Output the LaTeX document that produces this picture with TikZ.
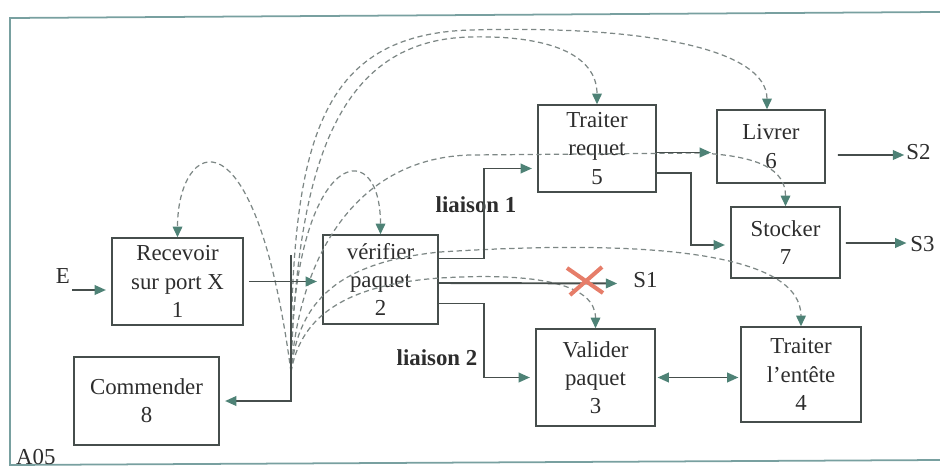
\documentclass[tikz,border=0pt]{standalone}
\usepackage{fontspec}
\setmainfont{Liberation Serif}
\usetikzlibrary{arrows.meta,calc}
\definecolor{framecol}{RGB}{120,160,160}
\definecolor{headcol}{RGB}{78,130,118}
\definecolor{linecol}{RGB}{70,78,76}
\definecolor{ctrlcol}{RGB}{125,135,133}
\definecolor{txtcol}{RGB}{45,45,45}
\definecolor{crosscol}{RGB}{230,125,105}
\tikzset{
  proc/.style={draw=linecol, line width=0.9pt, align=center, inner sep=1pt,
    font=\fontsize{13}{16}\selectfont, text=txtcol},
  flow/.style={draw=linecol, line width=1.1pt,
    -{Triangle[length=6.5pt,width=5.5pt,color=headcol]}, shorten >=3pt},
  both/.style={flow, {Triangle[length=6.5pt,width=5.5pt,color=headcol]}-{Triangle[length=6.5pt,width=5.5pt,color=headcol]}},
  ctrl/.style={draw=ctrlcol, line width=0.7pt, dash pattern=on 3pt off 2pt,
    -{Triangle[length=6pt,width=5.5pt,color=headcol]}},
  lbl/.style={font=\fontsize{13}{16}\selectfont, text=txtcol},
  lblbold/.style={font=\fontsize{13}{16}\selectfont\bfseries, text=txtcol},
}
\begin{document}
\begin{tikzpicture}[x=0.02cm, y=-0.02cm]
  \useasboundingbox (0,0) rectangle (940,470);
  % cadre
  \draw[framecol, line width=1pt] (940,12) -- (10,18) -- (10,465) -- (940,460);
  \node[lbl, anchor=south west, inner sep=1pt] (code) at (14,467) {A05};

  % boites
  \node[proc, minimum width=2.62cm, minimum height=1.74cm] (b1) at (177.5,281.5) {Recevoir\\sur port X\\1};
  \node[proc, minimum width=2.30cm, minimum height=1.78cm] (b2) at (380.5,279.5) {vérifier\\paquet\\2};
  \node[proc, minimum width=2.38cm, minimum height=1.94cm] (b3) at (595.5,377.5) {Valider\\paquet\\3};
  \node[proc, minimum width=2.40cm, minimum height=1.90cm] (b4) at (801,374.5) {Traiter\\l'entête\\4};
  \node[proc, minimum width=2.36cm, minimum height=1.74cm] (b5) at (597,148.5) {Traiter\\requet\\5};
  \node[proc, minimum width=2.16cm, minimum height=1.46cm] (b6) at (771,146.5) {Livrer\\6};
  \node[proc, minimum width=2.18cm, minimum height=1.42cm] (b7) at (785.5,242.5) {Stocker\\7};
  \node[proc, minimum width=2.90cm, minimum height=1.76cm] (b8) at (146.5,401) {Commender\\8};

  % entree et sorties
  \coordinate (Ein) at (72,290);
  \node[lbl, anchor=base east, inner sep=1pt] (E) at (72,283) {E};
  \node[lbl, anchor=west, inner sep=0pt] (S1) at (633,280) {S1};
  \node[lbl, anchor=west, inner sep=0pt] (S2) at (906,152) {S2};
  \node[lbl, anchor=west, inner sep=0pt] (S3) at (910,244) {S3};
  \node[lblbold] (l1) at (476,205) {liaison 1};
  \node[lblbold] (l2) at (437,358) {liaison 2};

  % commandes
  \coordinate (hub) at (291,372);
  \coordinate (hubtop) at (291,255);
  \draw[ctrl] (hub) .. controls (255,100) and (177.5,140) .. (b1.north);
  \draw[ctrl] (hub) .. controls (292,150) and (380.5,130) .. (b2.north);
  \draw[ctrl] (hub) .. controls (297,160) and (340,40) .. (470,37) .. controls (550,35) and (597,55) .. (b5.north);
  \draw[ctrl] (hub) .. controls (291,140) and (320,35) .. (470,30) .. controls (650,25) and (767,50) .. ($(b6.north)+(-4,0)$);
  \draw[ctrl] (hub) .. controls (300,250) and (360,158) .. (470,155) -- (700,153) .. controls (760,156) and (785.5,170) .. (b7.north);
  \draw[ctrl] (hub) .. controls (298,300) and (340,262) .. (440,252) .. controls (660,238) and (801,255) .. (b4.north);
  \draw[ctrl] (hub) .. controls (300,320) and (340,285) .. (440,278) .. controls (540,272) and (595.5,285) .. (b3.north);

  % flux
  \draw[flow] (Ein) -- (Ein -| b1.west);
  \draw[flow, shorten <=3pt] (b1.east) -- (b1.east -| b2.west);
  \draw[flow] ($(b2.east)+(0,-21)$) -- ++(45,0) |- ($(b5.west)+(0,20)$);
  \draw[flow, shorten >=9pt] ($(b2.east)+(0,3.5)$) -- (S1.west |- 0,283.5);
  \draw[flow] ($(b2.east)+(0,24)$) -- ++(45,0) |- (b3.west);
  \draw[flow] ($(b5.east)+(0,4)$) -- ($(b6.west)+(0,6)$);
  \draw[flow] ($(b5.east)+(0,24.5)$) -- ++(34,0) |- ($(b7.west)+(0,2.5)$);
  \draw[flow, shorten >=1pt] ($(b6.east)+(12,8.5)$) -- (S2.west |- 0,155);
  \draw[flow, shorten >=2pt] ($(b7.east)+(5,0.5)$) -- (S3.west |- 0,243);
  \draw[both, shorten <=1pt, shorten >=1pt] (b3.east) -- (b3.east -| b4.west);
  \draw[flow] (hubtop) |- (b8.east);

  % croix
  \draw[crosscol, line width=2.3pt] (567,268) -- (603,293) (602,267) -- (570,295);
\end{tikzpicture}
\end{document}
